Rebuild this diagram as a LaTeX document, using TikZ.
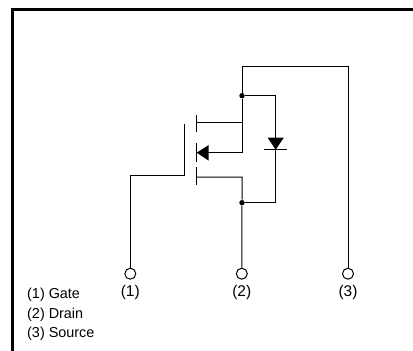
\documentclass[tikz,border=0pt]{standalone}
\usepackage{fontspec}
\setmainfont{Liberation Sans}
\usepackage{tikz}
\usetikzlibrary{calc}

\tikzset{
  pin/.style={draw,circle,fill=white,inner sep=0pt,minimum size=11pt},
  dot/.style={fill,circle,inner sep=0pt,minimum size=5.4pt},
  lbl/.style={inner sep=0pt,font=\fontsize{15.5}{15.5}\selectfont},
  legend/.style={inner sep=0pt,anchor=west,font=\fontsize{14.4}{14.4}\selectfont}
}

\begin{document}
\begin{tikzpicture}[x=1pt,y=-1pt,line width=1pt]
        \useasboundingbox (0,0) rectangle (413,351);

        % frame, only two sides
        \draw[line width=3pt] (12.5,351) -- (12.5,9.5) -- (413,9.5);

        \node[pin] (G) at (130.3,273.7) {};
        \node[pin] (D) at (241.8,273.7) {};
        \node[pin] (S) at (348,273.7) {};
        \node[lbl] (L1) at (130.3,292.7) {(1)};
        \node[lbl] (L2) at (241.8,292.7) {(2)};
        \node[lbl] (L3) at (348,292.7) {(3)};

        \node[dot] (T) at (242,95.7) {};
        \node[dot] (B) at (242,202.7) {};
        \coordinate (top) at (242,66);
        \coordinate (gbend) at (130.3,175.3);
        \coordinate (gplate) at (184,175.3);
        \coordinate (cathode) at (275.7,149.7);
        \coordinate (anode) at (275.7,137.7);

        % gate
        \draw (G) -- (gbend) -- (gplate);
        \draw (184,124.3) -- (184,175.8);

        % channel
        \draw (196,115) -- (196,132.3);
        \draw (196,143.3) -- (196,161.7);
        \draw (196,167.3) -- (196,184.7);

        % drain and source
        \draw (S) -- (348,66) -- (top) -- (T) -- (242,122.3) -- (196,122.3);
        \draw (T) -- (242,152.7) -- (196,152.7);
        \draw (196,177) -- (242,177) -- (B) -- (D);
        \fill (196.7,152.7) -- (208.7,145) -- (208.7,160.7) -- cycle;

        % diode
        \draw (T) -- (275.7,95.7) -- (anode);
        \draw (B) -- (275.7,202.7) -- (cathode);
        \fill (267.7,137.7) -- (283.7,137.7) -- (cathode) -- cycle;
        \draw (264,149.7) -- (286.7,149.7);

        \node[legend] (N1) at (26.7,295) {(1) Gate};
        \node[legend] (N2) at (26.7,314.3) {(2) Drain};
        \node[legend] (N3) at (26.7,334) {(3) Source};
      \end{tikzpicture}
\end{document}
